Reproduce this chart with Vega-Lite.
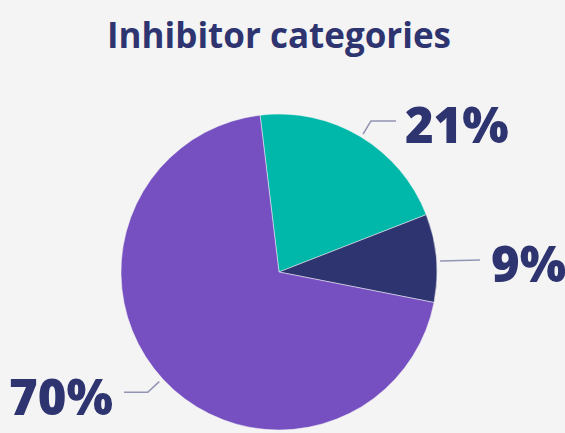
{
  "$schema": "https://vega.github.io/schema/vega-lite/v6.json",
  "width": 558,
  "height": 322,
  "autosize": {"type": "none"},
  "padding": {"top": 111, "left": 0, "right": 7, "bottom": 0},
  "background": "#f4f4f4",
  "title": {"text": "Inhibitor categories", "fontSize": 35, "font": "Open Sans", "fontWeight": "bold", "color": "#2E3470", "anchor": "middle", "baseline": "alphabetic", "offset": 21},
  "config": {"view": {"stroke": null}},
  "datasets": {
    "slices": [
      {"category": "A", "value": 21, "order": 1},
      {"category": "B", "value": 9, "order": 2},
      {"category": "C", "value": 70, "order": 3}
    ],
    "leaders": [
      {"group": "A", "seq": 1, "x": 0.532, "y": 0.873},
      {"group": "A", "seq": 2, "x": 0.582, "y": 0.956},
      {"group": "A", "seq": 3, "x": 0.741, "y": 0.956},
      {"group": "B", "seq": 1, "x": 1.019, "y": 0.070},
      {"group": "B", "seq": 2, "x": 1.272, "y": 0.076},
      {"group": "C", "seq": 1, "x": -0.758, "y": -0.694},
      {"group": "C", "seq": 2, "x": -0.831, "y": -0.761},
      {"group": "C", "seq": 3, "x": -0.981, "y": -0.761}
    ],
    "labels": [
      {"label": "21%", "side": "right", "x": 0.797, "y": 0.816},
      {"label": "9%", "side": "right", "x": 1.342, "y": -0.061},
      {"label": "70%", "side": "left", "x": -1.051, "y": -0.905}
    ]
  },
  "layer": [
    {
      "data": {"name": "slices"},
      "mark": {"type": "arc", "outerRadius": 158, "stroke": "#f4f4f4", "strokeWidth": 0.5},
      "encoding": {
        "theta": {"field": "value", "type": "quantitative", "stack": true, "scale": {"range": [-0.12, 6.1632]}},
        "order": {"field": "order"},
        "color": {"field": "category", "type": "nominal", "scale": {"domain": ["A", "B", "C"], "range": ["#00B8A9", "#2E3470", "#7650C1"]}, "legend": null}
      }
    },
    {
      "data": {"name": "leaders"},
      "mark": {"type": "line", "color": "#9294B4", "strokeWidth": 1.6},
      "encoding": {
        "x": {"field": "x", "type": "quantitative", "scale": {"domain": [-1.766, 1.766], "nice": false, "zero": false}, "axis": null},
        "y": {"field": "y", "type": "quantitative", "scale": {"domain": [-1.019, 1.019], "nice": false, "zero": false}, "axis": null},
        "detail": {"field": "group"},
        "order": {"field": "seq"}
      }
    },
    {
      "data": {"name": "labels"},
      "transform": [{"filter": "datum.side === 'right'"}],
      "mark": {"type": "text", "font": "Open Sans", "fontWeight": 800, "fontSize": 49, "color": "#2E3470", "baseline": "alphabetic", "align": "left"},
      "encoding": {
        "x": {"field": "x", "type": "quantitative"},
        "y": {"field": "y", "type": "quantitative"},
        "text": {"field": "label"}
      }
    },
    {
      "data": {"name": "labels"},
      "transform": [{"filter": "datum.side === 'left'"}],
      "mark": {"type": "text", "font": "Open Sans", "fontWeight": 800, "fontSize": 49, "color": "#2E3470", "baseline": "alphabetic", "align": "right"},
      "encoding": {
        "x": {"field": "x", "type": "quantitative"},
        "y": {"field": "y", "type": "quantitative"},
        "text": {"field": "label"}
      }
    }
  ]
}
